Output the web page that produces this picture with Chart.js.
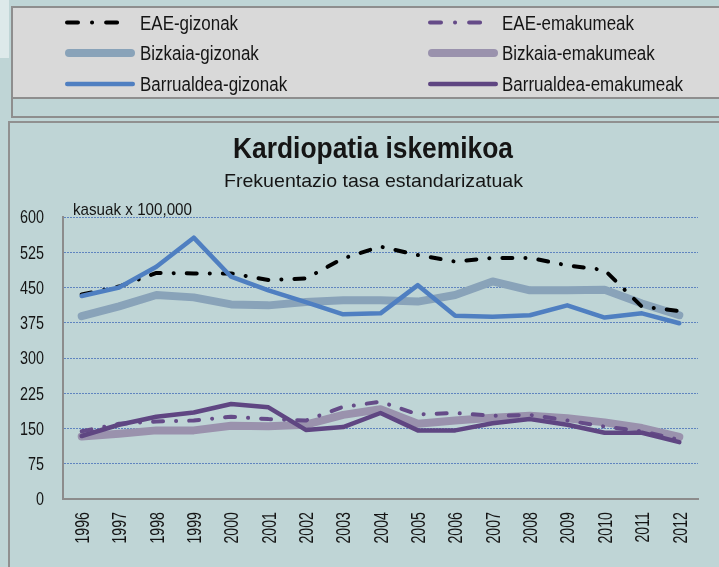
<!DOCTYPE html>
<html>
<head>
<meta charset="utf-8">
<script src="https://cdn.jsdelivr.net/npm/chart.js@4.4.0/dist/chart.umd.min.js"></script>
<style>
  html, body { margin: 0; padding: 0; }
  body {
    width: 719px; height: 567px; position: relative; overflow: hidden;
    background: #bfd5d6;
    font-family: 'Liberation Sans', Arial, sans-serif;
  }
  #glow { position: absolute; left: 0; top: 0; width: 9px; height: 58px; background: #dde9ea; }
  #legendBox {
    position: absolute; left: 11px; top: 6px; width: 720px; height: 108px;
    border: 2px solid #8e8e8e; border-right: none;
  }
  #legendFill {
    position: absolute; left: 0; top: 0; right: 0; height: 89px;
    background: #d9d9d9; border-bottom: 2px solid #8e8e8e;
  }
  #panel {
    position: absolute; left: 8px; top: 121px; width: 720px; height: 460px;
    border: 2px solid #909090; border-right: none; border-bottom: none;
  }
  .legText {
    position: absolute; font-size: 19.5px; line-height: 24px; color: #151515; white-space: nowrap;
    transform: scaleX(0.87); transform-origin: 0 50%;
  }
  #legSvg, #chart { position: absolute; left: 0; top: 0; }
</style>
</head>
<body>
<div id="glow"></div>
<div id="legendBox"><div id="legendFill"></div></div>
<div id="panel"></div>
<canvas id="chart" width="719" height="567"></canvas>
<svg id="legSvg" width="719" height="120"></svg>
<div id="legend"></div>

<script>
// --- data ---
const years = ['1996', '1997', '1998', '1999', '2000', '2001', '2002', '2003', '2004',
               '2005', '2006', '2007', '2008', '2009', '2010', '2011', '2012'];

const eaeGizonak          = [435, 452, 481, 480, 480, 466, 469, 512, 537, 519, 505, 513, 513, 497, 487, 409, 400];
const eaeEmakumeak        = [144, 160, 165, 167, 175, 170, 167, 196, 207, 180, 183, 177, 179, 167, 154, 144, 126];
const bizkaiaGizonak      = [389, 410, 434, 429, 414, 412, 419, 423, 423, 420, 434, 463, 444, 444, 445, 416, 391];
const bizkaiaEmakumeak    = [133, 139, 146, 146, 156, 155, 158, 179, 191, 160, 167, 173, 177, 172, 163, 151, 132];
const barrualdeaGizonak   = [432, 450, 494, 556, 473, 444, 419, 393, 395, 455, 390, 388, 391, 412, 386, 395, 374];
const barrualdeaEmakumeak = [134, 158, 175, 184, 202, 195, 147, 153, 183, 146, 146, 161, 170, 158, 141, 141, 121];

const seriesLabels = ['EAE-gizonak', 'EAE-emakumeak', 'Bizkaia-gizonak', 'Bizkaia-emakumeak',
                      'Barrualdea-gizonak', 'Barrualdea-emakumeak'];

const yMin = 0, yMax = 600, yStep = 75;

const titleText = 'Kardiopatia iskemikoa';
const subtitleText = 'Frekuentazio tasa estandarizatuak';
const unitText = 'kasuak x 100,000';

// --- look ---
const FONT = "'Liberation Sans', Arial, sans-serif";
const TEXT_COLOR = '#151515';
const dashDot = [10, 13, 0.1, 13];
Chart.defaults.font.family = FONT;

const datasets = [
    { label: seriesLabels[0], data: eaeGizonak, borderColor: '#000000', borderWidth: 4, borderDash: dashDot, order: 2 },
    { label: seriesLabels[1], data: eaeEmakumeak, borderColor: '#654b88', borderWidth: 4, borderDash: dashDot, order: 2 },
    { label: seriesLabels[2], data: bizkaiaGizonak, borderColor: '#89a3b9', borderWidth: 8, order: 3 },
    { label: seriesLabels[3], data: bizkaiaEmakumeak, borderColor: '#9a92ad', borderWidth: 8, order: 3 },
    { label: seriesLabels[4], data: barrualdeaGizonak, borderColor: '#4f7fc1', borderWidth: 4.5, order: 1 },
    { label: seriesLabels[5], data: barrualdeaEmakumeak, borderColor: '#5f4682', borderWidth: 4.5, order: 1 }
];

// draws condensed text: squeezes horizontally by sx (or to a target width)
function drawText(ctx, text, x, y, font, sx, align, targetWidth) {
    ctx.save();
    ctx.font = font;
    ctx.textBaseline = 'alphabetic';
    const w = ctx.measureText(text).width;
    if (targetWidth) sx = targetWidth / w;
    let dx = 0;
    if (align === 'center') dx = -w / 2;
    else if (align === 'right') dx = -w;
    ctx.translate(x, y);
    ctx.scale(sx, 1);
    ctx.textAlign = 'left';
    ctx.fillText(text, dx, 0);
    ctx.restore();
}

// titles, unit note and the axis labels (positions taken from the chart scales)
const textPlugin = {
    id: 'texts',
    afterDraw(chart) {
        const ctx = chart.ctx;
        ctx.fillStyle = TEXT_COLOR;
        drawText(ctx, titleText, 373, 158, 'bold 30px ' + FONT, 1, 'center', 280);
        drawText(ctx, subtitleText, 373.5, 187, '19px ' + FONT, 1, 'center', 299);
        drawText(ctx, unitText, chart.chartArea.left + 10, chart.chartArea.top - 2, '17px ' + FONT, 1, 'left', 119);

        const ys = chart.scales.y;
        ys.ticks.forEach(t => {
            const py = ys.getPixelForValue(t.value);
            drawText(ctx, t.label, ys.right - 19, py + 6.3, '17.5px ' + FONT, 0.82, 'right');
        });

        const xs = chart.scales.x;
        xs.getLabels().forEach((lab, i) => {
            const px = xs.getPixelForTick(i);
            ctx.save();
            ctx.translate(px, xs.top + 13);
            ctx.rotate(-Math.PI / 2);
            // after rotation: text runs upward, ending 13px under the axis
            drawText(ctx, lab, 0, 7.2, '20px ' + FONT, 0.71, 'right');
            ctx.restore();
        });
    }
};

const chart = new Chart(document.getElementById('chart').getContext('2d'), {
    type: 'line',
    data: { labels: years, datasets: datasets },
    options: {
        responsive: false,
        animation: false,
        layout: { padding: { top: 217, right: 21, left: 0, bottom: 0 } },
        elements: {
            line: { tension: 0, borderJoinStyle: 'round', borderCapStyle: 'round', fill: false },
            point: { radius: 0 }
        },
        plugins: { legend: { display: false }, tooltip: { enabled: false } },
        scales: {
            x: {
                offset: true,
                grid: { display: false, drawTicks: false },
                border: { color: '#8c8c8c', width: 2 },
                ticks: { display: false, autoSkip: false },
                afterFit(scale) { scale.height = 68; }
            },
            y: {
                min: yMin, max: yMax,
                grid: {
                    drawTicks: false, lineWidth: 1,
                    color: c => (c.tick && c.tick.value === 0) ? 'rgba(0,0,0,0)' : '#5f84bf'
                },
                border: { color: '#8c8c8c', width: 2, dash: [2, 1] },
                ticks: { display: false, stepSize: yStep },
                afterFit(scale) { scale.width = 63; }
            }
        }
    },
    plugins: [textPlugin]
});

// legend box built from the datasets: two columns, three rows
const legendSpots = [[65, 140, 22.5], [428, 501.5, 22.5], [65, 140, 53], [428, 501.5, 53], [65, 140, 84], [428, 501.5, 84]];
const svg = document.getElementById('legSvg');
const legendDiv = document.getElementById('legend');
let svgInner = '';
datasets.forEach((ds, i) => {
    const [lx, tx, y] = legendSpots[i];
    const w = ds.borderWidth;
    let x1 = lx + w / 2, x2 = lx + 70 - w / 2;
    let dash = '';
    if (ds.borderDash) {
        x1 = lx + 2; x2 = lx + 57;
        dash = ' stroke-dasharray="11 14 0.1 14"';
    }
    svgInner += `<line x1="${x1}" y1="${y}" x2="${x2}" y2="${y}" stroke="${ds.borderColor}" stroke-width="${w}" stroke-linecap="round"${dash}/>`;
    const item = document.createElement('div');
    item.className = 'legText';
    item.style.left = tx + 'px';
    item.style.top = (y - 11.7) + 'px';
    item.textContent = ds.label;
    legendDiv.appendChild(item);
});
svg.innerHTML = svgInner;
</script>
</body>
</html>
